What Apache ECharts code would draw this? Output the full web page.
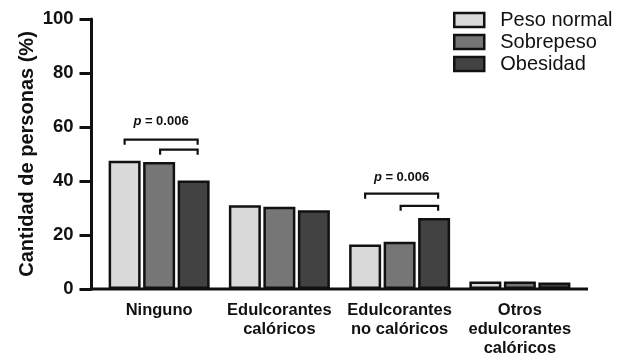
<!DOCTYPE html>
<html>
<head>
<meta charset="utf-8">
<script src="https://cdn.jsdelivr.net/npm/echarts@6/dist/echarts.min.js"></script>
<style>
  html, body { margin: 0; padding: 0; background: #fff; }
  #chart { width: 626px; height: 358px; }
</style>
</head>
<body>
<div id="chart"></div>
<script>
// Categories of sweetener use and share of people per weight group (%)
const categories = ['Ninguno', 'Edulcorantes\ncalóricos', 'Edulcorantes\nno calóricos', 'Otros\nedulcorantes\ncalóricos'];
const seriesNames = ['Peso normal', 'Sobrepeso', 'Obesidad'];
const pesoNormal = [47.5, 31.0, 16.5, 2.8];
const sobrepeso = [47.0, 30.5, 17.5, 2.8];
const obesidad = [40.2, 29.2, 26.3, 2.4];
const yTicks = [0, 20, 40, 60, 80, 100];

// Significance annotations: category, outer bracket level, inner bracket level, label level
const sigCategory = [0, 2];
const sigOuter = [55.3, 35.3];
const sigInner = [51.6, 30.8];
const sigLabelLevel = [62.1, 41.5];
const sigLabel = ['0.006', '0.006'];

const FONT = "'Liberation Sans', Arial, Helvetica, sans-serif";
const INK = '#111111';
const colors = ['#d9d9d9', '#767676', '#424242'];
const BAR_W = 32;
const BAR_GAP = 2.5;
const STEP = BAR_W + BAR_GAP;

const valueSeries = [pesoNormal, sobrepeso, obesidad];

const bars = seriesNames.map((name, i) => ({
  name: name,
  type: 'bar',
  data: valueSeries[i],
  barWidth: BAR_W,
  barGap: (BAR_GAP / BAR_W * 100) + '%',
  itemStyle: { color: colors[i], borderColor: INK, borderWidth: 2.5 },
  emphasis: { disabled: true }
}));

const sigData = sigCategory.map((c, i) => [c, sigOuter[i], sigInner[i], sigLabelLevel[i], i]);

const brackets = {
  type: 'custom',
  name: 'sig',
  silent: true,
  z: 5,
  data: sigData,
  encode: { x: 0, y: 1 },
  renderItem: function (params, api) {
    const cat = api.value(0);
    const outer = api.coord([cat, api.value(1)]);
    const inner = api.coord([cat, api.value(2)]);
    const lab = api.coord([cat, api.value(3)]);
    const cx = outer[0];
    const x0 = cx - STEP;
    const x1 = cx;
    const x2 = cx + STEP + 4;
    const drop = 5;
    const ls = { stroke: INK, lineWidth: 2.2, fill: null };
    return {
      type: 'group',
      children: [
        { type: 'polyline', shape: { points: [[x0, outer[1] + drop], [x0, outer[1]], [x2, outer[1]], [x2, outer[1] + drop]] }, style: ls },
        { type: 'polyline', shape: { points: [[x1 + 1, inner[1] + drop], [x1 + 1, inner[1]], [x2, inner[1]], [x2, inner[1] + drop]] }, style: ls },
        {
          type: 'text',
          x: (x0 + x2) / 2,
          y: lab[1],
          style: {
            text: '{i|p} {b|= ' + sigLabel[api.value(4)] + '}',
            align: 'center',
            verticalAlign: 'middle',
            rich: {
              i: { fontFamily: FONT, fontSize: 13, fontWeight: 'bold', fontStyle: 'italic', fill: INK },
              b: { fontFamily: FONT, fontSize: 13, fontWeight: 'bold', fill: INK }
            }
          }
        }
      ]
    };
  }
};

const chart = echarts.init(document.getElementById('chart'), null, { renderer: 'canvas' });
chart.setOption({
  animation: false,
  backgroundColor: '#ffffff',
  grid: { left: 99, right: 46, top: 19, bottom: 67, containLabel: false },
  legend: {
    data: seriesNames,
    orient: 'vertical',
    left: 453,
    top: 9,
    padding: 0,
    icon: 'rect',
    itemWidth: 30,
    itemHeight: 14,
    itemGap: 0,
    selectedMode: false,
    itemStyle: { borderColor: INK, borderWidth: 2.5 },
    textStyle: { fontFamily: FONT, fontSize: 20, color: INK, lineHeight: 22, padding: [0, 0, 0, 11] }
  },
  xAxis: {
    type: 'category',
    data: categories,
    axisLine: { show: false },
    axisTick: { show: false },
    axisLabel: {
      interval: 0,
      margin: 12,
      fontFamily: FONT,
      fontSize: 16.5,
      fontWeight: 'bold',
      lineHeight: 19,
      color: INK,
      align: 'center'
    }
  },
  yAxis: {
    type: 'value',
    min: yTicks[0],
    max: yTicks[yTicks.length - 1],
    interval: 20,
    offset: 7.5,
    name: 'Cantidad de personas (%)',
    nameLocation: 'middle',
    nameGap: 54,
    nameMoveOverlap: false,
    nameTextStyle: { fontFamily: FONT, fontSize: 20, fontWeight: 'bold', color: INK },
    axisLine: { show: true, lineStyle: { color: INK, width: 3 } },
    axisTick: { show: true, length: 12, lineStyle: { color: INK, width: 3 } },
    axisLabel: { margin: 18, fontFamily: FONT, fontSize: 18.5, fontWeight: 'bold', color: INK },
    splitLine: { show: false }
  },
  series: bars.concat([brackets])
});

// Baseline along the category axis, running from the value axis to past the last group
const zeroY = chart.convertToPixel({ yAxisIndex: 0 }, 0);
chart.setOption({
  graphic: [{
    type: 'line',
    z: 10,
    shape: { x1: 90, y1: zeroY, x2: 588, y2: zeroY },
    style: { stroke: INK, lineWidth: 3 }
  }]
});
</script>
</body>
</html>
